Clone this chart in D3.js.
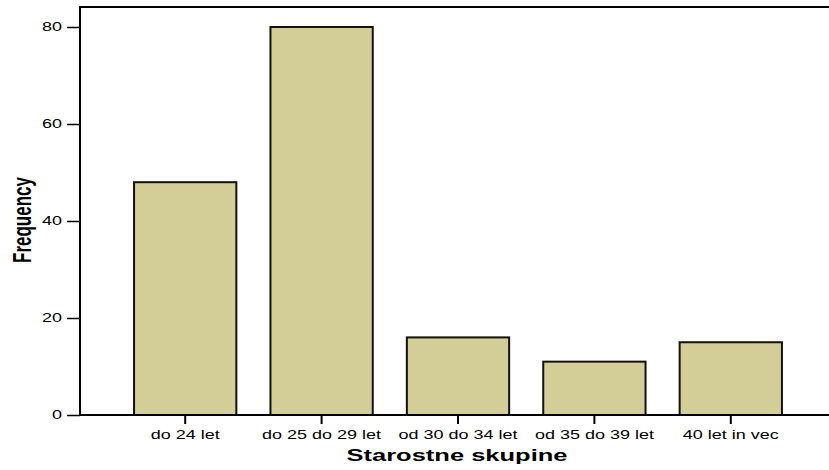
<!DOCTYPE html>
<html><head><meta charset="utf-8">
<script src="https://cdn.jsdelivr.net/npm/d3@7"></script>
<style>body{margin:0;background:#fff}svg{display:block}text{font-family:"Liberation Sans",Arial,sans-serif}</style>
</head><body><svg id="c" width="829" height="470"></svg>
<script>
const categories = ["do 24 let","do 25 do 29 let","od 30 do 34 let","od 35 do 39 let","40 let in vec"];
const frequencies = [48, 80, 16, 11, 15];
const yTicks = [0, 20, 40, 60, 80];

(function(){
const svg = d3.select("#c");
const pLeft = 80, pTop = 7, pRight = 829, pBottom = 415;
const sx = 1.5; // horizontal stretch of the text
const x = d3.scaleBand().domain(categories).range([117, 799]).paddingInner(0.25).paddingOuter(0.125);
const y = d3.scaleLinear().domain([0, 80]).range([pBottom, 27]);

// frame
svg.append("line").attr("x1", pLeft).attr("x2", pRight).attr("y1", pTop).attr("y2", pTop).attr("stroke","#000").attr("stroke-width",2);
svg.append("line").attr("x1", pLeft).attr("x2", pLeft).attr("y1", pTop-1).attr("y2", pBottom).attr("stroke","#000").attr("stroke-width",2);

// bars
svg.append("g").selectAll("rect").data(frequencies).join("rect")
  .attr("x", (d,i)=>x(categories[i]))
  .attr("y", d=>y(d))
  .attr("width", x.bandwidth())
  .attr("height", d=>pBottom - y(d))
  .attr("fill","#d3ce98").attr("stroke","#111").attr("stroke-width",2);

// y axis
const ya = svg.append("g").attr("transform",`translate(${pLeft},0)`)
  .call(d3.axisLeft(y).tickValues(yTicks).tickSize(13).tickPadding(5));
ya.select(".domain").remove();
ya.selectAll("line").attr("stroke","#000").attr("stroke-width",1.5);
ya.selectAll("text").attr("font-size",12).attr("fill","#000")
  .attr("x", -18/sx).attr("transform",`scale(${sx},1)`)
  .style("font-family","Liberation Sans, Arial");

// x axis
const xa = svg.append("g").attr("transform",`translate(0,${pBottom})`)
  .call(d3.axisBottom(x).tickSize(9).tickPadding(6.5));
xa.select(".domain").remove();
xa.selectAll("line").attr("stroke","#000").attr("stroke-width",2);
xa.selectAll("text").attr("font-size",12).attr("fill","#000")
  .attr("transform",`scale(${sx},1)`)
  .style("font-family","Liberation Sans, Arial");
svg.append("line").attr("x1", pLeft-1).attr("x2", pRight).attr("y1", pBottom).attr("y2", pBottom).attr("stroke","#000").attr("stroke-width",2);

// titles
svg.append("text").attr("transform",`translate(457,461) scale(${sx},1)`).attr("text-anchor","middle")
  .attr("font-size",17).attr("font-weight","bold").text("Starostne skupine");
svg.append("text").attr("transform",`translate(31,220) scale(${sx},1) rotate(-90)`).attr("text-anchor","middle")
  .attr("font-size",17).attr("font-weight","bold")
  .text("Frequency");
})();
</script></body></html>
